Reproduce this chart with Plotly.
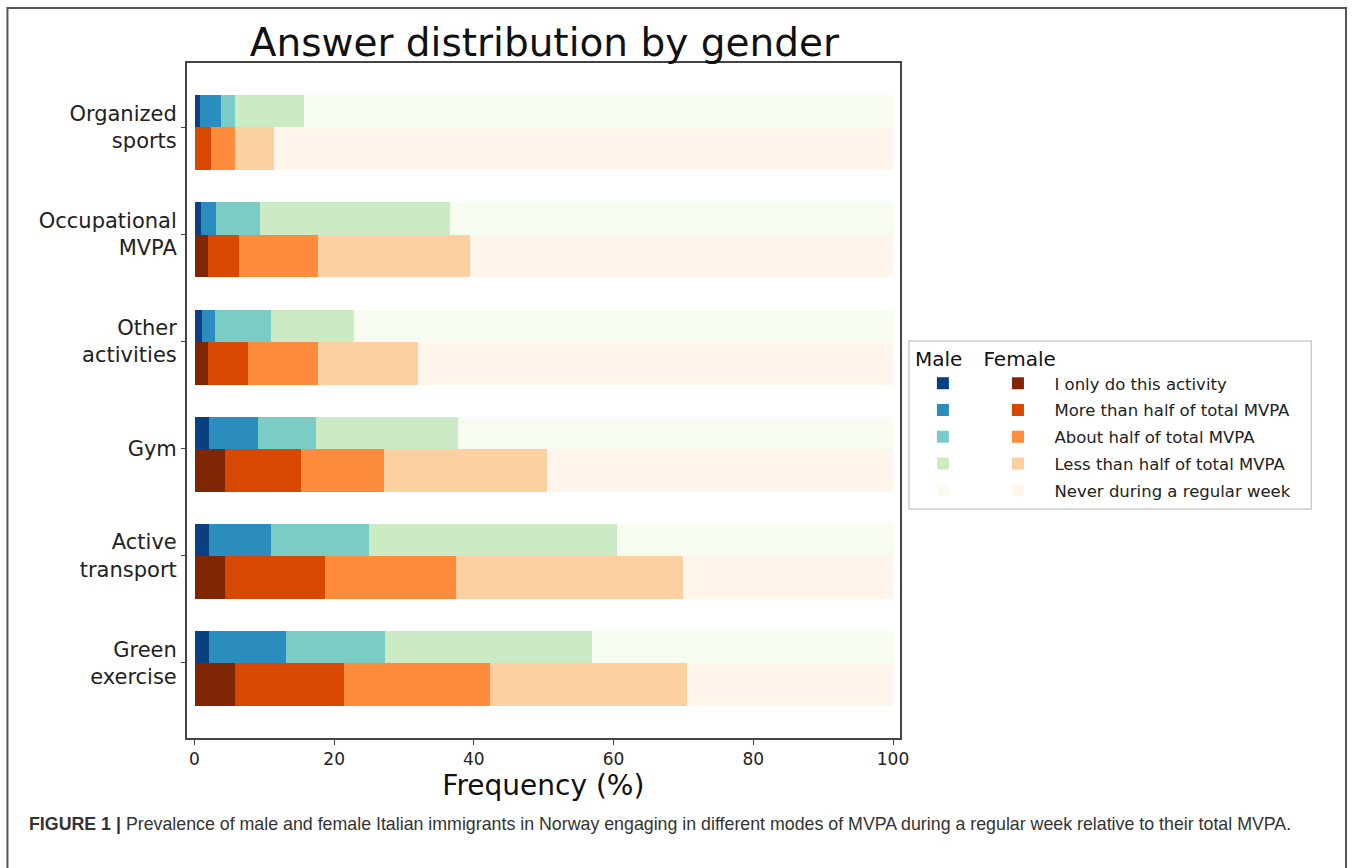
import plotly.graph_objects as go

W, H = 1358, 868

categories = ["Organized<br>sports", "Occupational<br>MVPA", "Other<br>activities",
              "Gym", "Active<br>transport", "Green<br>exercise"]
levels = ["I only do this activity", "More than half of total MVPA",
          "About half of total MVPA", "Less than half of total MVPA",
          "Never during a regular week"]

male_only = [0.7, 0.9, 1.0, 2.1, 2.1, 2.1]
male_more = [3.0, 2.2, 1.9, 7.0, 8.8, 11.0]
male_about = [2.0, 6.2, 8.0, 8.3, 14.1, 14.2]
male_less = [10.0, 27.2, 11.9, 20.3, 35.4, 29.6]
male_never = [84.3, 63.5, 77.2, 62.3, 39.6, 43.1]

female_only = [0.0, 1.9, 1.9, 4.3, 4.3, 5.7]
female_more = [2.3, 4.4, 5.8, 10.9, 14.3, 15.7]
female_about = [3.4, 11.3, 9.9, 11.9, 18.8, 20.9]
female_less = [5.7, 21.8, 14.3, 23.3, 32.5, 28.2]
female_never = [88.6, 60.6, 68.1, 49.6, 30.1, 29.5]

x_ticks = [0, 20, 40, 60, 80, 100]

male_colors = ["#084081", "#2b8cbe", "#7bccc4", "#ccebc5", "#f7fcf0"]
female_colors = ["#7f2704", "#d94801", "#fd8d3c", "#fdd0a2", "#fff5eb"]

male_series = [male_only, male_more, male_about, male_less, male_never]
female_series = [female_only, female_more, female_about, female_less, female_never]

n = len(categories)
positions = [n - 1 - i for i in range(n)]
male_h, female_h = 0.3, 0.4
male_pos = [p + male_h / 2 for p in positions]
female_pos = [p - female_h / 2 for p in positions]

fig = go.Figure()
for i, (lvl, vals, col) in enumerate(zip(levels, male_series, male_colors)):
    fig.add_trace(go.Bar(x=vals, y=male_pos, orientation="h", width=male_h,
                         marker=dict(color=col, line=dict(width=0)),
                         name=" ", legend="legend", legendgroup=f"m{i}",
                         hovertext=lvl))
for i, (lvl, vals, col) in enumerate(zip(levels, female_series, female_colors)):
    fig.add_trace(go.Bar(x=vals, y=female_pos, orientation="h", width=female_h,
                         marker=dict(color=col, line=dict(width=0)),
                         name=lvl, legend="legend2", legendgroup=f"f{i}"))

def px_x(v):
    return v / W

def px_y(v):
    return 1 - v / H

font = "DejaVu Sans"
fig.update_layout(
    width=W, height=H, autosize=False,
    margin=dict(l=0, r=0, t=0, b=0),
    paper_bgcolor="white", plot_bgcolor="white",
    barmode="stack", bargap=0,
    font=dict(family=font, color="#222"),
    title=dict(text="Answer distribution by gender", x=px_x(548), xref="paper",
               xanchor="center", y=px_y(42), yref="paper", yanchor="middle",
               font=dict(family=font, size=39, color="#111")),
    xaxis=dict(domain=[px_x(188), px_x(906)], range=[-1.1, 101.0],
               tickvals=x_ticks, ticks="outside", ticklen=5, tickcolor="#444",
               tickfont=dict(size=17, color="#222"),
               showgrid=False, zeroline=False, showline=True, mirror=True,
               linecolor="#444", linewidth=1.5,
               title=dict(text="Frequency (%)", font=dict(size=28, color="#111"),
                          standoff=4)),
    yaxis=dict(domain=[px_y(738), px_y(62.7)], range=[-0.70, 5.60],
               tickvals=positions, ticktext=categories, ticks="outside",
               ticklen=4, tickcolor="#444", tickfont=dict(size=21, color="#222"),
               showgrid=False, zeroline=False, showline=True, mirror=True,
               linecolor="#444", linewidth=1.5),
    legend=dict(x=px_x(919), y=px_y(340), xanchor="left", yanchor="top",
                bgcolor="rgba(0,0,0,0)", borderwidth=0, itemwidth=50,
                tracegroupgap=2.3,
                title=dict(text="Male", font=dict(size=20, color="#111")),
                font=dict(size=16.5, color="#222"), traceorder="grouped",
                itemclick=False, itemdoubleclick=False),
    legend2=dict(x=px_x(988), y=px_y(340), xanchor="left", yanchor="top",
                 bgcolor="rgba(0,0,0,0)", borderwidth=0, itemwidth=63,
                 tracegroupgap=2.3,
                 title=dict(text="Female", font=dict(size=20, color="#111")),
                 font=dict(size=16.5, color="#222"), traceorder="grouped",
                 itemclick=False, itemdoubleclick=False),
    showlegend=True,
)

# legend frame
fig.add_shape(type="rect", xref="paper", yref="paper",
              x0=px_x(915), x1=px_x(1320), y0=px_y(509), y1=px_y(341),
              line=dict(color="#cccccc", width=1.5), fillcolor="rgba(0,0,0,0)",
              layer="below")
# outer figure frame
fig.add_shape(type="rect", xref="paper", yref="paper",
              x0=px_x(7.5), x1=px_x(1355), y0=-0.02, y1=px_y(8),
              line=dict(color="#555555", width=2), fillcolor="rgba(0,0,0,0)")

fig.add_annotation(
    xref="paper", yref="paper", x=px_x(27), y=px_y(824), xanchor="left", yanchor="middle",
    showarrow=False,
    text="<b>FIGURE 1</b> <b>|</b> Prevalence of male and female Italian immigrants in Norway "
         "engaging in different modes of MVPA during a regular week relative to their total MVPA.",
    font=dict(family="Liberation Sans", size=17.8, color="#333"))

fig.write_html("out.html", config={"displayModeBar": False},
               post_script="document.body.style.margin='0';document.body.style.overflow='hidden';")
